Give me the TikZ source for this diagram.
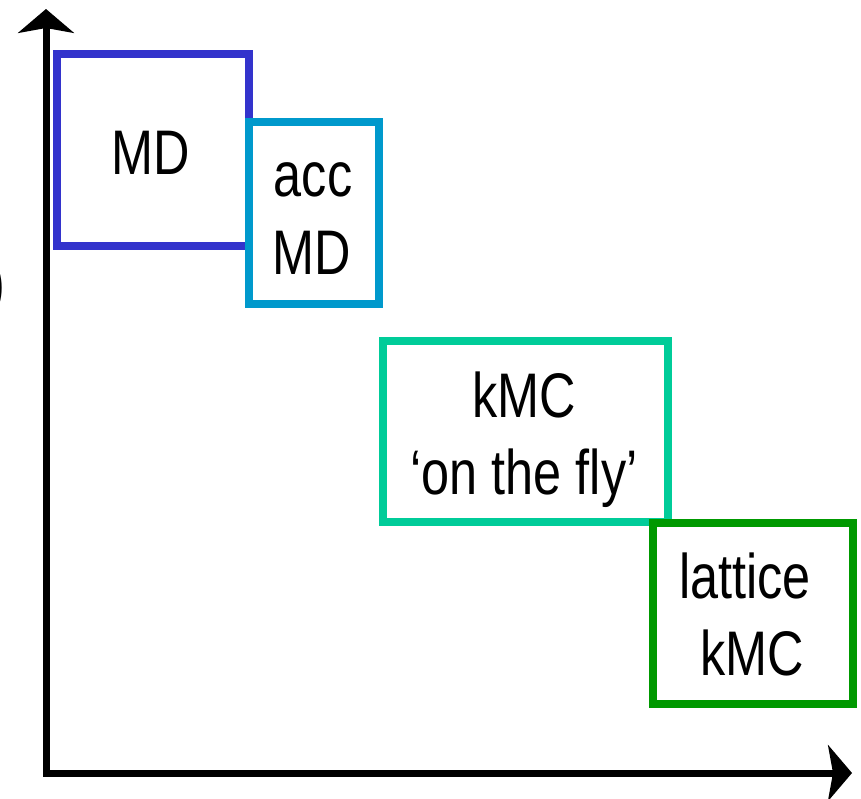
\documentclass[tikz,border=0pt]{standalone}
\usepackage{fontspec}
\setmainfont{Liberation Sans}
\newfontfamily\arialn[FakeStretch=0.8]{Liberation Sans}
\usetikzlibrary{arrows.meta}
\definecolor{cMD}{HTML}{3333CC}
\definecolor{cAcc}{HTML}{0099CC}
\definecolor{cFly}{HTML}{00CC99}
\definecolor{cLat}{HTML}{009900}
\tikzset{
  box/.style={draw, line width=8pt, rectangle, inner sep=0pt, fill=none},
  lbl/.style={anchor=base, inner sep=0pt, font=\arialn\fontsize{63}{77}\selectfont},
  axis/.style={line width=7pt, arrows={Stealth[length=24pt,width=56pt,inset=5pt]-Stealth[length=24pt,width=56pt,inset=5pt]}}
}
\begin{document}
\begin{tikzpicture}[x=1pt,y=-1pt]
\useasboundingbox (0,0) rectangle (861,799);
\begin{scope}
\clip (0,0) rectangle (861,799);
\node[lbl, anchor=base east] (paren) at (5.5,305) {)};
\end{scope}
% axes
\coordinate (o) at (46,773);
\coordinate (ytip) at (46,9);
\coordinate (xtip) at (852,773);
\draw[axis] (ytip) -- (o) -- (xtip);
% boxes
\node[box, draw=cMD, minimum width=192pt, minimum height=192pt] (md) at (153,150) {};
\node[box, draw=cAcc, minimum width=130pt, minimum height=181.5pt] (acc) at (313.5,212.75) {};
\node[box, draw=cFly, minimum width=285pt, minimum height=181pt] (fly) at (525,431.5) {};
\node[box, draw=cLat, minimum width=200.5pt, minimum height=181pt] (lat) at (752.75,613.5) {};
% labels
\node[lbl] (tmd) at (151,175) {MD};
\node[lbl] (tacc1) at (313,197) {acc};
\node[lbl] (tacc2) at (312,275) {MD};
\node[lbl] (tfly1) at (524,417) {kMC};
\node[lbl] (tfly2) at (524,494) {‘on the fly’};
\node[lbl] (tlat1) at (745,598) {lattice};
\node[lbl] (tlat2) at (752,675) {kMC};
\end{tikzpicture}
\end{document}
